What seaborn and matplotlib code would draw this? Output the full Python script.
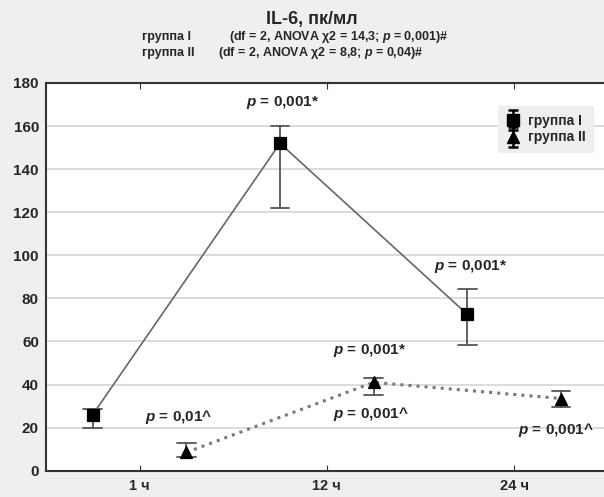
import matplotlib
matplotlib.use("Agg")
import matplotlib.pyplot as plt
import seaborn as sns
import pandas as pd
from matplotlib.lines import Line2D
from matplotlib.path import Path
from matplotlib.legend_handler import HandlerTuple

# ---------------- data ----------------
times = ["1 ч", "12 ч", "24 ч"]
groups = ["группа I", "группа II"]
g1_mean = [26, 152, 72.6]
g1_low = [20, 122, 58.5]
g1_high = [28.5, 160, 84.5]
g2_mean = [8.5, 41, 33.5]
g2_low = [6.3, 34.9, 29.6]
g2_high = [12.9, 43.1, 36.8]
y_ticks = [0, 20, 40, 60, 80, 100, 120, 140, 160, 180]

title = "IL-6, пк/мл"
sub_labels = ["группа I", "группа II"]
sub_stats = [r"(df = 2, ANOVA χ2 = 14,3; $p$ = 0,001)#",
             r"(df = 2, ANOVA χ2 = 8,8; $p$ = 0,04)#"]
ann_texts = [r"$p$ = 0,001*", r"$p$ = 0,001*", r"$p$ = 0,001*",
             r"$p$ = 0,01^", r"$p$ = 0,001^", r"$p$ = 0,001^"]

rows = []
for grp, m, lo, hi in [(groups[0], g1_mean, g1_low, g1_high),
                       (groups[1], g2_mean, g2_low, g2_high)]:
    for t, a, b, c in zip(times, m, lo, hi):
        for v in (b, a, c):
            rows.append({"time": t, "group": grp, "value": v})
df = pd.DataFrame(rows)

# ---------------- style ----------------
sns.set_style("white")
FAM = ['Liberation Sans Narrow', 'Liberation Sans', 'DejaVu Sans']
plt.rcParams['font.family'] = FAM
plt.rcParams['font.weight'] = 'bold'
plt.rcParams['mathtext.fontset'] = 'custom'
plt.rcParams['mathtext.it'] = 'Liberation Sans:italic:bold'
plt.rcParams['mathtext.rm'] = 'Liberation Sans:bold'
plt.rcParams['mathtext.bf'] = 'Liberation Sans:bold'

fig = plt.figure(figsize=(6.04, 4.97), dpi=100, facecolor='#efefef')
ax = fig.add_axes([0.076, 0.053, 0.924, 0.780])
ax.set_facecolor('white')

sns.pointplot(data=df, x="time", y="value", hue="group", hue_order=groups,
              order=times, estimator="median", errorbar=("pi", 100),
              dodge=0.5, markers=["s", "^"], linestyles=["-", ":"],
              palette=["#222222", "#222222"], capsize=0.1,
              err_kws={"linewidth": 1.2}, markersize=9, linewidth=1.2,
              legend=False, ax=ax)

for ln in ax.lines:
    mk = ln.get_marker()
    if mk not in (None, 'None', '', ' '):
        ls = ln.get_linestyle()
        ln.set_color('#666666' if ls == '-' else '#7a7a7a')
        if ls != '-':
            ln.set_linewidth(2.2)
        ln.set_markerfacecolor('black')
        ln.set_markeredgecolor('black')
        ln.set_zorder(4)
    else:
        ln.set_color('#555555')
        ln.set_linewidth(1.3)

ax.set_xlim(-0.5, 2.48)
ax.set_ylim(0, 180)
ax.set_yticks(y_ticks)
ax.set_xlabel("")
ax.set_ylabel("")
ax.yaxis.grid(True, color='#d9d9d9', linewidth=1.3)
ax.xaxis.grid(False)
ax.set_axisbelow(True)
for s in ['left', 'bottom', 'top']:
    ax.spines[s].set_visible(True)
    ax.spines[s].set_color('#333333')
    ax.spines[s].set_linewidth(1.5)
ax.spines['right'].set_visible(False)
ax.tick_params(axis='x', direction='in', top=True, bottom=True, length=4,
               color='#333333', labelsize=10.5, pad=6)
ax.tick_params(axis='y', length=0, labelsize=11, pad=5)
for lab in ax.get_xticklabels() + ax.get_yticklabels():
    lab.set_fontweight('bold')

# annotations
ann_pos = [(0.765, 171), (1.77, 95), (1.23, 56), (0.21, 25), (1.235, 26.5), (2.225, 19)]
for t, (x, y) in zip(ann_texts, ann_pos):
    ax.text(x, y, t, ha='center', va='center', fontsize=11, fontweight='bold')

# legend
eb_path = Path([(-0.5, 1), (0.5, 1), (0, 1), (0, -1), (-0.5, -1), (0.5, -1)],
               [Path.MOVETO, Path.LINETO, Path.MOVETO, Path.LINETO, Path.MOVETO, Path.LINETO])
eb = Line2D([], [], marker=eb_path, markersize=14, mec='black', mfc='none',
            linestyle='none', markeredgewidth=1.8)
sq = Line2D([], [], marker='s', markersize=8, color='black', linestyle='none')
tri = Line2D([], [], marker='^', markersize=9, color='black', linestyle='none')
leg = ax.legend(handles=[(eb, sq), (eb, tri)], labels=groups,
                handler_map={tuple: HandlerTuple(ndivide=1)},
                loc='upper right', bbox_to_anchor=(0.975, 0.93), borderaxespad=0,
                frameon=True, facecolor='#eeeeee', edgecolor='none', framealpha=1,
                handlelength=1.0, handletextpad=0.6, borderpad=0.3,
                labelspacing=0.15, prop={'weight': 'bold', 'size': 10})
leg.get_frame().set_boxstyle('square')

# titles
fig.text(0.517, 0.96, title, ha='center', va='center', fontsize=13, fontweight='bold')
fig.text(0.235, 0.925, sub_labels[0], ha='left', va='center', fontsize=9, fontweight='bold')
fig.text(0.235, 0.894, sub_labels[1], ha='left', va='center', fontsize=9, fontweight='bold')
fig.text(0.379, 0.925, sub_stats[0], ha='left', va='center', fontsize=9, fontweight='bold')
fig.text(0.361, 0.894, sub_stats[1], ha='left', va='center', fontsize=9, fontweight='bold')

fig.savefig("out.png", dpi=100, facecolor=fig.get_facecolor())
